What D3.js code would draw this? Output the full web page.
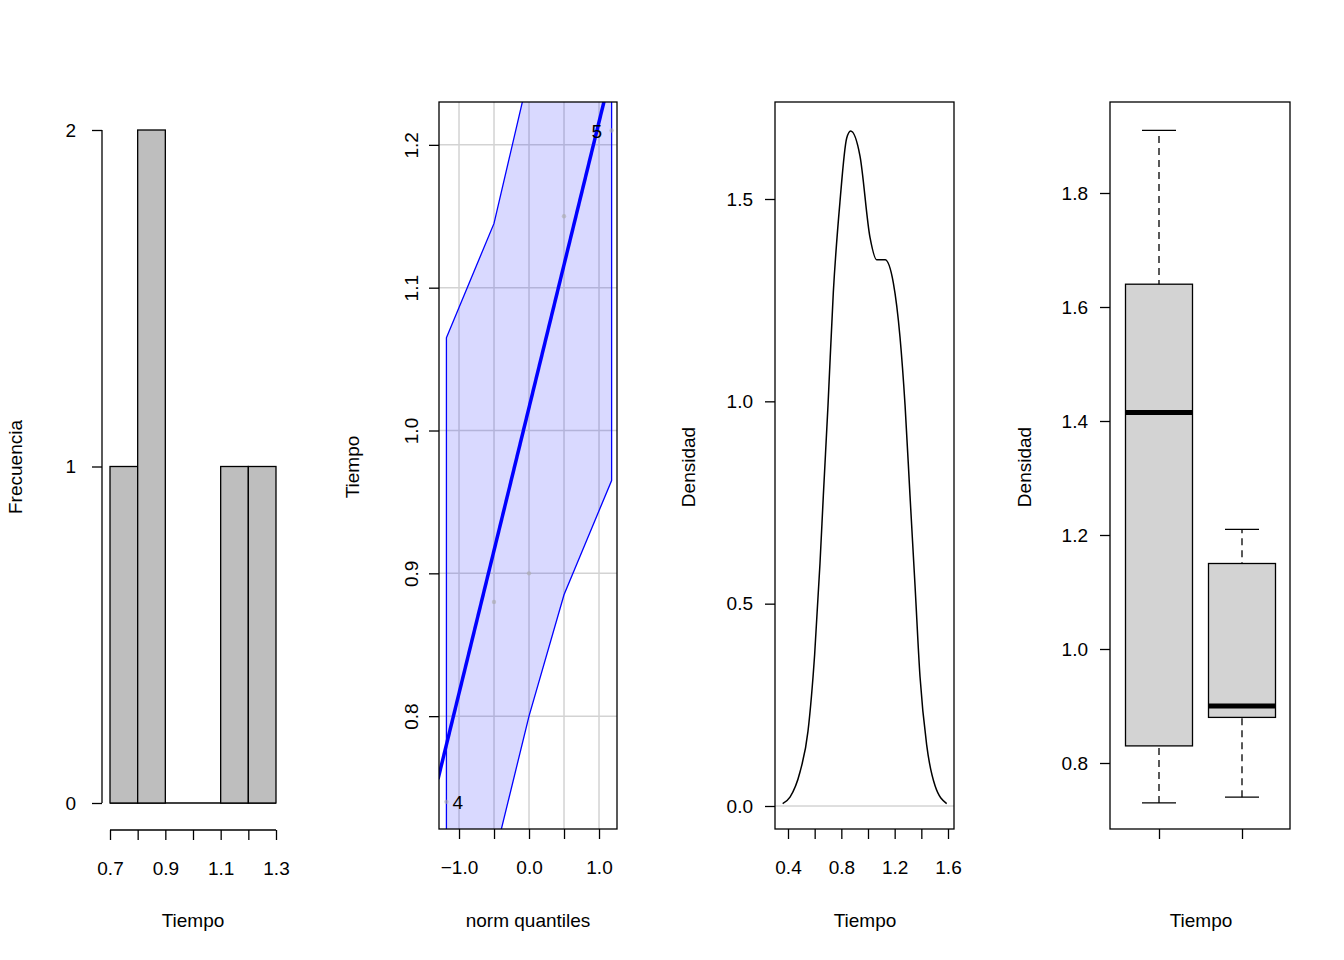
<!DOCTYPE html>
<html><head><meta charset="utf-8">
<script src="https://cdn.jsdelivr.net/npm/d3@7"></script>
<style>body{margin:0;background:#fff}text{font-family:"Liberation Sans",Arial,sans-serif;fill:#000}</style>
</head><body>
<script>
// data
const tiempo = [0.74, 0.88, 0.90, 1.15, 1.21]
const histBreaks = [0.7, 0.8, 0.9, 1.0, 1.1, 1.2, 1.3]
const histCounts = [1, 2, 0, 0, 1, 1]
const qqTheo = [-1.18, -0.5, 0, 0.5, 1.18]
const qqLine = { intercept: 1.016, slope: 0.2 }
const bandX = [-1.18, -0.5, 0, 0.5, 1.18]
const bandUpper = [1.065, 1.145, 1.25, 1.36, 1.46]
const bandLower = [0.57, 0.70, 0.80, 0.885, 0.965]
const densX = [0.36, 0.415, 0.49, 0.55, 0.60, 0.64, 0.665, 0.70, 0.74, 0.79, 0.84, 0.87, 0.94, 1.015, 1.065, 1.128, 1.19, 1.24, 1.278, 1.315, 1.353, 1.39, 1.44, 1.503, 1.59]
const densY = [0.006, 0.022, 0.084, 0.185, 0.375, 0.60, 0.767, 0.99, 1.27, 1.494, 1.65, 1.668, 1.606, 1.405, 1.35, 1.35, 1.293, 1.159, 0.99, 0.767, 0.543, 0.32, 0.151, 0.05, 0.006]
const boxes = [
	{ x: 1, lo: 0.73, q1: 0.83, med: 1.415, q3: 1.64, hi: 1.91 },
	{ x: 2, lo: 0.74, q1: 0.88, med: 0.90, q3: 1.15, hi: 1.21 },
]

const svg = d3.select("body").append("svg").attr("width", 1344).attr("height", 960)
const FS = 19

function vlabel(x, y, t) {
	svg.append("text").attr("transform", `translate(${x},${y}) rotate(-90)`)
		.attr("text-anchor", "middle").style("font-size", FS).text(t)
}
function hlabel(x, y, t) {
	svg.append("text").attr("x", x).attr("y", y).attr("text-anchor", "middle").style("font-size", FS).text(t)
}
function frame(x0, x1, y0, y1) {
	svg.append("rect").attr("x", x0).attr("y", y0).attr("width", x1 - x0).attr("height", y1 - y0)
		.attr("fill", "none").attr("stroke", "#000").attr("stroke-width", 1.3)
}
function yAxis(x, scale, ticks, fmt, rotate) {
	const g = svg.append("g").attr("transform", `translate(${x},0)`)
	const ax = d3.axisLeft(scale).tickValues(ticks).tickFormat(fmt).tickSize(10).tickPadding(6)
	g.call(ax)
	g.select(".domain").remove()
	g.selectAll("line").attr("stroke-width", 1.3)
	g.selectAll("text").style("font-size", FS).attr("font-family", null)
	if (rotate) g.selectAll("text").attr("text-anchor", "middle").attr("transform", "translate(-28,0) rotate(-90)").attr("x", 0).attr("y", 0).attr("dy", "0.35em")
	else g.selectAll("text").attr("dx", "-6")
	return g
}
function xAxis(y, scale, ticks, labelled, fmt) {
	const g = svg.append("g").attr("transform", `translate(0,${y})`)
	g.call(d3.axisBottom(scale).tickValues(ticks).tickFormat(d => labelled.some(l => Math.abs(l - d) < 1e-9) ? fmt(d) : "").tickSize(10).tickPadding(22))
	g.select(".domain").remove()
	g.selectAll("line").attr("stroke-width", 1.3)
	g.selectAll("text").style("font-size", FS).attr("font-family", null)
	return g
}

// 1. histogram
{
	const x = d3.scaleLinear().domain([0.7, 1.3]).range([110, 276])
	const y = d3.scaleLinear().domain([0, 2]).range([803, 130])
	svg.append("line").attr("x1", x(0.7)).attr("x2", x(1.3)).attr("y1", y(0)).attr("y2", y(0)).attr("stroke", "#000").attr("stroke-width", 1.3)
	svg.append("g").selectAll("rect").data(histCounts).join("rect")
		.attr("x", (d, i) => x(histBreaks[i])).attr("width", (d, i) => x(histBreaks[i + 1]) - x(histBreaks[i]))
		.attr("y", d => y(d)).attr("height", d => y(0) - y(d))
		.attr("fill", "#bebebe").attr("stroke", "#000").attr("stroke-width", 1.3)
	const gy = yAxis(102, y, [0, 1, 2], d3.format("d"))
	svg.append("line").attr("x1", 102).attr("x2", 102).attr("y1", y(0)).attr("y2", y(2)).attr("stroke", "#000").attr("stroke-width", 1.3)
	gy.selectAll("text").attr("dx", "-10")
	xAxis(830, x, histBreaks, [0.7, 0.9, 1.1, 1.3], d3.format(".1f"))
	svg.append("line").attr("x1", x(0.7)).attr("x2", x(1.3)).attr("y1", 830).attr("y2", 830).attr("stroke", "#000").attr("stroke-width", 1.3)
	vlabel(22, 467, "Frecuencia")
	hlabel(193, 927, "Tiempo")
}

// 2. QQ plot
{
	const x = d3.scaleLinear().domain([-1.286, 1.257]).range([439, 617])
	const y = d3.scaleLinear().domain([0.721, 1.230]).range([829, 102])
	svg.append("clipPath").attr("id", "qqclip").append("rect").attr("x", 439).attr("y", 102).attr("width", 178).attr("height", 727)
	const g = svg.append("g").attr("clip-path", "url(#qqclip)")
	const gx = [-1, -0.5, 0, 0.5, 1], gyv = [0.8, 0.9, 1.0, 1.1, 1.2]
	g.selectAll(".gv").data(gx).join("line").attr("x1", d => x(d)).attr("x2", d => x(d)).attr("y1", 102).attr("y2", 829).attr("stroke", "#d3d3d3").attr("stroke-width", 1.5)
	g.selectAll(".gh").data(gyv).join("line").attr("y1", d => y(d)).attr("y2", d => y(d)).attr("x1", 439).attr("x2", 617).attr("stroke", "#d3d3d3").attr("stroke-width", 1.5)
	const band = bandX.map((v, i) => [v, bandLower[i], bandUpper[i]])
	g.append("path").datum(band).attr("d", d3.area().x(d => x(d[0])).y0(d => y(d[1])).y1(d => y(d[2])))
		.attr("fill", "rgba(0,0,255,0.15)").attr("stroke", "#0000ff").attr("stroke-width", 1.3)
	g.append("line").attr("x1", x(-1.3)).attr("x2", x(1.3))
		.attr("y1", y(qqLine.intercept + qqLine.slope * -1.3)).attr("y2", y(qqLine.intercept + qqLine.slope * 1.3))
		.attr("stroke", "#0000ff").attr("stroke-width", 3.5)
	const sorted = tiempo.slice().sort(d3.ascending)
	g.selectAll("circle").data(qqTheo).join("circle").attr("cx", d => x(d)).attr("cy", (d, i) => y(sorted[i])).attr("r", 2.2)
		.attr("fill", "#aaa").attr("opacity", 0.6)
	g.append("text").attr("x", x(qqTheo[0]) + 6).attr("y", y(sorted[0]) + 7).style("font-size", FS).text("4")
	g.append("text").attr("x", x(qqTheo[4]) - 20).attr("y", y(sorted[4]) + 7).style("font-size", FS).text("5")
	frame(439, 617, 102, 829)
	yAxis(439, y, gyv, d3.format(".1f"), true)
	xAxis(829, x, gx, [-1, 0, 1], d3.format(".1f"))
	vlabel(359, 467, "Tiempo")
	hlabel(528, 927, "norm quantiles")
}

// 3. density
{
	const x = d3.scaleLinear().domain([0.4, 1.6]).range([788, 948])
	const y = d3.scaleLinear().domain([0, 1.5]).range([806, 199])
	svg.append("line").attr("x1", 775).attr("x2", 954).attr("y1", y(0)).attr("y2", y(0)).attr("stroke", "#bebebe").attr("stroke-width", 1)
	svg.append("path").datum(densX.map((v, i) => [v, densY[i]]))
		.attr("d", d3.line().x(d => x(d[0])).y(d => y(d[1])).curve(d3.curveMonotoneX))
		.attr("fill", "none").attr("stroke", "#000").attr("stroke-width", 1.5)
	frame(775, 954, 102, 829)
	yAxis(775, y, [0, 0.5, 1.0, 1.5], d3.format(".1f"))
	xAxis(829, x, [0.4, 0.6, 0.8, 1.0, 1.2, 1.4, 1.6], [0.4, 0.8, 1.2, 1.6], d3.format(".1f"))
	vlabel(695, 467, "Densidad")
	hlabel(865, 927, "Tiempo")
}

// 4. boxplot
{
	const x = d3.scaleLinear().domain([1, 2]).range([1159, 1242])
	const y = d3.scaleLinear().domain([0.8, 1.8]).range([763, 193])
	const hw = 33.5
	const g = svg.append("g").selectAll("g").data(boxes).join("g")
	g.append("line").attr("x1", d => x(d.x)).attr("x2", d => x(d.x)).attr("y1", d => y(d.lo)).attr("y2", d => y(d.hi))
		.attr("stroke", "#000").attr("stroke-width", 1.3).attr("stroke-dasharray", "7,5")
	g.append("line").attr("x1", d => x(d.x) - 17).attr("x2", d => x(d.x) + 17).attr("y1", d => y(d.lo)).attr("y2", d => y(d.lo)).attr("stroke", "#000").attr("stroke-width", 1.3)
	g.append("line").attr("x1", d => x(d.x) - 17).attr("x2", d => x(d.x) + 17).attr("y1", d => y(d.hi)).attr("y2", d => y(d.hi)).attr("stroke", "#000").attr("stroke-width", 1.3)
	g.append("rect").attr("x", d => x(d.x) - hw).attr("width", 2 * hw).attr("y", d => y(d.q3)).attr("height", d => y(d.q1) - y(d.q3))
		.attr("fill", "#d3d3d3").attr("stroke", "#000").attr("stroke-width", 1.3)
	g.append("line").attr("x1", d => x(d.x) - hw).attr("x2", d => x(d.x) + hw).attr("y1", d => y(d.med)).attr("y2", d => y(d.med)).attr("stroke", "#000").attr("stroke-width", 5)
	frame(1110, 1290, 102, 829)
	yAxis(1110, y, [0.8, 1.0, 1.2, 1.4, 1.6, 1.8], d3.format(".1f"))
	xAxis(829, x, [1, 2], [], d => "")
	vlabel(1031, 467, "Densidad")
	hlabel(1201, 927, "Tiempo")
}
</script>
</body></html>
